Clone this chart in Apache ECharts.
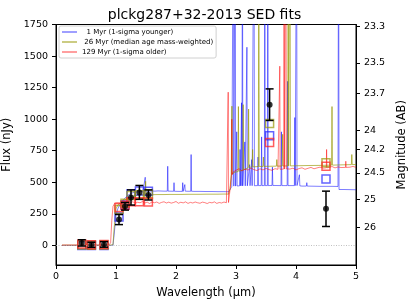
<!DOCTYPE html>
<html><head><meta charset="utf-8">
<script src="https://cdn.jsdelivr.net/npm/echarts@6/dist/echarts.min.js"></script>
<style>html,body{margin:0;padding:0;background:#fff}#c{width:409px;height:307px}</style>
</head><body><div id="c"></div>
<script>
// ---- data ----
const seriesNames = ['  1 Myr (1-sigma younger)', ' 26 Myr (median age mass-weighted)', '129 Myr (1-sigma older)'];
const xTicks = [0, 1, 2, 3, 4, 5];
const fluxTicks = [0, 250, 500, 750, 1000, 1250, 1500, 1750];
const magTicks = [23.3, 23.5, 23.7, 24, 24.2, 24.5, 25, 26];

const spec1Myr = [
[0.10,0],[0.90,0],[0.95,2],[0.97,90],[1.00,240],[1.03,290],[1.06,320],[1.10,350],[1.15,375],[1.20,398],[1.25,412],[1.30,420],[1.35,424],[1.40,426],[1.45,428],[1.48,428],[1.487,540],[1.494,428],[1.55,430],[1.60,431],[1.65,430],[1.70,432],[1.75,431],[1.80,430],[1.855,430],[1.862,627],[1.869,430],[1.90,429],[1.96,429],[1.967,497],[1.974,429],[2.00,429],[2.05,428],[2.105,428],[2.112,497],[2.119,428],[2.14,430],[2.147,482],[2.154,430],[2.20,429],[2.245,429],[2.252,720],[2.259,429],[2.30,428],[2.40,428],[2.50,427],[2.60,427],[2.70,426],[2.80,426],[2.88,425],[2.90,430],[2.93,468],[2.95,470],[2.957,3000],[2.964,470],[2.98,470],[2.987,3000],[2.994,470],[3.005,471],[3.012,900],[3.019,471],[3.06,472],[3.067,760],[3.074,472],[3.085,472],[3.092,1130],[3.099,472],[3.103,472],[3.108,3000],[3.113,472],[3.14,472],[3.147,820],[3.154,472],[3.175,472],[3.182,1570],[3.189,472],[3.22,473],[3.227,640],[3.234,473],[3.255,473],[3.262,680],[3.269,473],[3.293,473],[3.30,3000],[3.307,473],[3.36,474],[3.367,700],[3.374,474],[3.42,474],[3.427,860],[3.434,474],[3.473,474],[3.48,3000],[3.487,474],[3.523,474],[3.53,3000],[3.537,474],[3.60,475],[3.607,620],[3.614,475],[3.75,474],[3.757,900],[3.764,474],[3.853,474],[3.86,1300],[3.867,474],[3.973,474],[3.98,1013],[3.987,474],[4.003,474],[4.01,3000],[4.017,474],[4.05,472],[4.057,560],[4.064,472],[4.10,470],[4.173,470],[4.18,497],[4.187,470],[4.30,469],[4.40,468],[4.50,468],[4.60,468],[4.70,467],[4.703,467],[4.71,3000],[4.717,443],[4.80,443],[4.90,442],[5.00,441]
];
const spec26Myr = [
[0.10,2],[0.90,2],[0.95,6],[0.97,140],[1.00,290],[1.03,320],[1.06,335],[1.10,348],[1.15,362],[1.20,375],[1.25,385],[1.30,392],[1.35,396],[1.40,399],[1.45,401],[1.487,401],[1.494,508],[1.501,401],[1.60,402],[1.70,403],[1.80,403],[1.90,404],[2.00,404],[2.10,404],[2.20,405],[2.30,405],[2.40,405],[2.50,406],[2.60,406],[2.70,406],[2.80,407],[2.88,407],[2.90,450],[2.92,560],[2.925,560],[2.932,1103],[2.939,565],[2.98,580],[3.033,585],[3.04,1100],[3.047,588],[3.113,595],[3.12,1115],[3.127,600],[3.16,610],[3.203,615],[3.21,1080],[3.217,618],[3.27,622],[3.277,760],[3.284,622],[3.373,625],[3.38,3000],[3.387,625],[3.45,626],[3.457,700],[3.464,626],[3.55,627],[3.673,628],[3.68,680],[3.687,628],[3.77,629],[3.777,880],[3.784,629],[3.863,630],[3.87,3000],[3.877,630],[3.893,630],[3.90,3000],[3.907,630],[4.00,631],[4.20,633],[4.40,634],[4.593,636],[4.60,1100],[4.607,636],[4.75,638],[4.923,640],[4.93,720],[4.937,640],[5.00,641]
];
const spec129Myr = [
[0.10,3],[0.88,3],[0.91,20],[0.93,200],[0.95,310],[0.98,335],[1.00,342],[1.02,338],[1.05,352],[1.08,336],[1.10,348],[1.13,340],[1.16,333],[1.20,344],[1.24,337],[1.28,346],[1.32,335],[1.36,342],[1.40,338],[1.44,347],[1.48,336],[1.52,343],[1.56,332],[1.60,345],[1.64,338],[1.68,344],[1.72,333],[1.76,341],[1.80,346],[1.84,336],[1.88,343],[1.92,335],[1.96,340],[2.00,348],[2.04,334],[2.08,342],[2.12,337],[2.16,345],[2.20,333],[2.24,341],[2.28,336],[2.32,344],[2.36,338],[2.40,334],[2.44,343],[2.48,339],[2.52,332],[2.56,341],[2.60,337],[2.64,345],[2.68,333],[2.72,340],[2.76,336],[2.80,344],[2.84,338],[2.865,340],[2.870,1214],[2.875,340],[2.89,342],[2.91,480],[2.925,560],[2.930,1000],[2.935,560],[2.95,580],[3.00,595],[3.05,608],[3.10,590],[3.15,604],[3.20,597],[3.25,612],[3.30,600],[3.35,593],[3.40,607],[3.45,598],[3.50,610],[3.55,601],[3.60,595],[3.65,608],[3.70,603],[3.725,603],[3.73,1420],[3.735,603],[3.795,605],[3.80,3000],[3.81,605],[3.825,605],[3.83,3000],[3.84,606],[3.90,605],[3.95,612],[4.00,598],[4.05,609],[4.10,615],[4.15,603],[4.20,611],[4.25,618],[4.30,607],[4.35,614],[4.40,620],[4.45,612],[4.505,615],[4.51,760],[4.515,615],[4.55,618],[4.60,625],[4.65,614],[4.70,622],[4.75,617],[4.825,618],[4.83,667],[4.835,618],[4.90,620],[4.95,626],[5.00,618]
];

const bandWave = [0.43, 0.59, 0.80, 1.05, 1.15, 1.25, 1.39, 1.54, 3.56, 4.50];
const obsFlux = [20, 5, 8, 205, 310, 380, 420, 400, 1115, 290];
const obsErr  = [25, 20, 22, 40, 30, 60, 55, 40, 125, 140];
const model1Myr   = [0, 0, 0, 225, 320, 410, 432, 430, 868, 527];
const model26Myr  = [3, 2, 3, 285, 335, 395, 402, 405, 966, 654];
const model129Myr = [12, 5, 8, 300, 318, 346, 346, 345, 815, 627];

// ---- chart ----
const FONT = 'DejaVu Sans';
const magToFlux = m => Math.pow(10, (31.4 - m) / 2.5);
const colBlue = 'rgba(0,0,255,0.5)';
const colOlive = 'rgba(150,150,0,0.65)';
const colRed = 'rgba(255,0,0,0.5)';

function pairs(xs, ys) { return xs.map((x, i) => [x, ys[i]]); }
function squares(name, data, color) {
  return { type: 'scatter', name: name + '_sq', data: data, symbol: 'rect', symbolSize: 8, z: 4,
    itemStyle: { color: 'rgba(0,0,0,0)', borderColor: color, borderWidth: 1.5 }, silent: true };
}

const chart = echarts.init(document.getElementById('c'), null, { renderer: 'canvas' });
chart.setOption({
  animation: false,
  backgroundColor: '#fff',
  textStyle: { fontFamily: FONT },
  title: { text: 'plckg287+32-2013 SED fits', left: 'center', top: 3,
    textStyle: { fontFamily: FONT, fontSize: 14, fontWeight: 'normal', color: '#000' } },
  grid: { left: 56, right: 53, top: 24.5, bottom: 42, containLabel: false, outerBoundsMode: 'none',
    show: true, borderColor: '#000', borderWidth: 1, backgroundColor: 'transparent' },
  legend: {
    data: seriesNames.map(n => ({ name: n, icon: 'rect' })),
    orient: 'vertical', left: 59, top: 26,
    itemWidth: 15, itemHeight: 1.5, itemGap: 2, padding: [2, 3, 2, 3],
    backgroundColor: 'rgba(255,255,255,0.85)', borderColor: '#d0d0d0', borderWidth: 1, borderRadius: 2,
    textStyle: { fontFamily: FONT, fontSize: 7, color: '#000', lineHeight: 8 }
  },
  xAxis: {
    type: 'value', min: 0, max: 5, interval: 1,
    name: 'Wavelength (μm)', nameLocation: 'middle', nameGap: 21,
    nameTextStyle: { fontFamily: FONT, fontSize: 11.5, color: '#000' },
    axisLine: { show: true, onZero: false, lineStyle: { color: '#000', width: 1 } },
    axisTick: { show: true, length: 4, lineStyle: { color: '#000' } },
    axisLabel: { color: '#000', fontSize: 9.5, margin: 7, fontFamily: FONT,
      customValues: xTicks, formatter: v => String(v) },
    splitLine: { show: false }
  },
  yAxis: [{
    type: 'value', min: -155, max: 1750, position: 'left',
    name: 'Flux (nJy)', nameLocation: 'middle', nameGap: 37,
    nameTextStyle: { fontFamily: FONT, fontSize: 11.5, color: '#000' },
    axisLine: { show: true, onZero: false, lineStyle: { color: '#000', width: 1 } },
    axisTick: { show: true, length: 4, customValues: fluxTicks, lineStyle: { color: '#000' } },
    axisLabel: { color: '#000', fontSize: 9.5, margin: 8, fontFamily: FONT, customValues: fluxTicks,
      formatter: v => String(v) },
    splitLine: { show: false }
  }, {
    type: 'value', min: -155, max: 1750, position: 'right',
    name: 'Magnitude (AB)', nameLocation: 'middle', nameGap: 33,
    nameTextStyle: { fontFamily: FONT, fontSize: 11.5, color: '#000' },
    axisLine: { show: true, onZero: false, lineStyle: { color: '#000', width: 1 } },
    axisTick: { show: true, length: 4, customValues: magTicks.map(magToFlux), lineStyle: { color: '#000' } },
    axisLabel: { color: '#000', fontSize: 9.5, margin: 8, fontFamily: FONT,
      customValues: magTicks.map(magToFlux),
      formatter: v => String(+(31.4 - 2.5 * Math.log10(v)).toFixed(1)) },
    splitLine: { show: false }
  }],
  series: [
    { type: 'line', name: seriesNames[0], data: spec1Myr, symbol: 'none', z: 2,
      lineStyle: { color: colBlue, width: 1 }, itemStyle: { color: colBlue },
      markLine: { silent: true, symbol: 'none', label: { show: false },
        lineStyle: { color: '#b0b0b0', type: [1, 1.5], width: 0.8, opacity: 1 }, data: [{ yAxis: 0 }] } },
    { type: 'line', name: seriesNames[1], data: spec26Myr, symbol: 'none', z: 2,
      lineStyle: { color: colOlive, width: 1 }, itemStyle: { color: colOlive } },
    { type: 'line', name: seriesNames[2], data: spec129Myr, symbol: 'none', z: 2,
      lineStyle: { color: colRed, width: 1 }, itemStyle: { color: colRed } },
    squares('b', pairs(bandWave, model1Myr), 'rgba(40,40,255,0.9)'),
    squares('y', pairs(bandWave, model26Myr), 'rgba(150,150,0,0.85)'),
    squares('r', pairs(bandWave, model129Myr), 'rgba(255,30,30,0.9)'),
    { type: 'custom', name: 'err', z: 5, silent: true,
      data: bandWave.map((w, i) => [w, obsFlux[i], obsErr[i]]),
      encode: { x: 0, y: 1 },
      renderItem: function (params, api) {
        const x = api.value(0), y = api.value(1), e = api.value(2);
        const t = api.coord([x, y + e]), b = api.coord([x, y - e]);
        const cw = 4, st = { stroke: '#000', lineWidth: 1.5 };
        return { type: 'group', children: [
          { type: 'line', shape: { x1: t[0], y1: t[1], x2: b[0], y2: b[1] }, style: st },
          { type: 'line', shape: { x1: t[0] - cw, y1: t[1], x2: t[0] + cw, y2: t[1] }, style: st },
          { type: 'line', shape: { x1: b[0] - cw, y1: b[1], x2: b[0] + cw, y2: b[1] }, style: st }
        ] };
      } },
    { type: 'scatter', name: 'obs', data: pairs(bandWave, obsFlux), symbol: 'circle', symbolSize: 6, z: 6,
      itemStyle: { color: '#000' }, silent: true }
  ]
});
</script></body></html>
